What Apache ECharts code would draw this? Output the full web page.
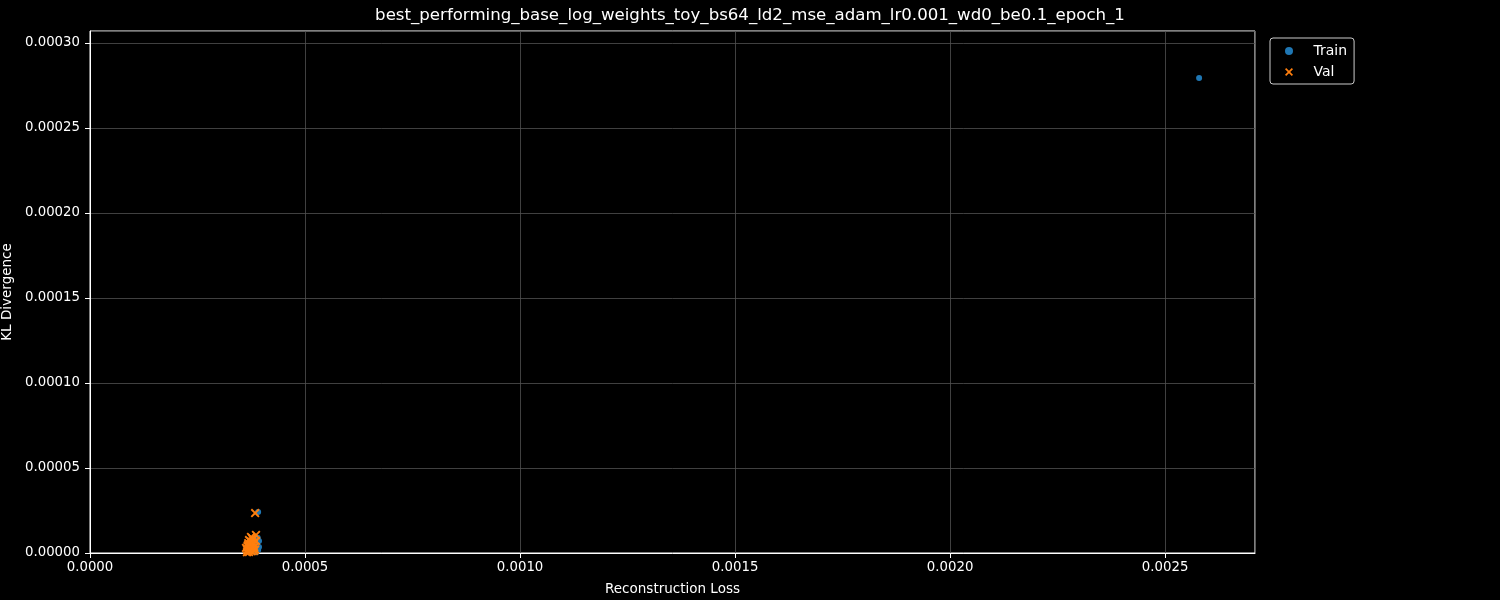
<!DOCTYPE html>
<html><head><meta charset="utf-8">
<script src="https://cdn.jsdelivr.net/npm/echarts@6/dist/echarts.min.js"></script>
<style>html,body{margin:0;padding:0;background:#000;}#c{width:1500px;height:600px;}</style>
</head><body><div id="c"></div>
<script>
const titleText = 'best_performing_base_log_weights_toy_bs64_ld2_mse_adam_lr0.001_wd0_be0.1_epoch_1';
const xName = 'Reconstruction Loss';
const yName = 'KL Divergence';
const trainX = [0.002579, 0.000391, 0.000393, 0.000393, 0.000391, 0.000388, 0.000385, 0.000380, 0.000376, 0.000372, 0.000370, 0.000383, 0.000378, 0.000374, 0.000390, 0.000387];
const trainY = [0.0002794, 0.0000241, 0.0000071, 0.0000035, 0.0000018, 0.0000050, 0.0000030, 0.0000040, 0.0000025, 0.0000060, 0.0000010, 0.0000080, 0.0000015, 0.0000045, 0.0000090, 0.0000005];
const valX = [0.000384, 0.000386, 0.0003698, 0.0003767, 0.0003674, 0.0003814, 0.0003721, 0.0003651, 0.000379, 0.0003744, 0.000386, 0.0003698, 0.0003814, 0.0003767, 0.0003744, 0.0003628, 0.000379, 0.0003721, 0.000365, 0.000370, 0.000376, 0.000382, 0.000368, 0.000374, 0.000379, 0.000384, 0.000366, 0.000372];
const valY = [0.0000235, 0.0000106, 0.0000076, 0.0000065, 0.0000047, 0.0000053, 0.0000029, 0.0000018, 0.0000024, 0.0000041, 0.0000071, 0.0000006, 0.0000012, 0.0000088, 0.0000094, 0.0000030, 0.0000060, 0.0000050, 0.0000005, 0.0000022, 0.0000010, 0.0000035, 0.0000058, 0.0000068, 0.0000080, 0.0000020, 0.0000040, 0.0000014];
const xMax = 0.002709, yMax = 0.000307;
const xInterval = 0.0005, yInterval = 0.00005;

const font = 'DejaVu Sans';
const chart = echarts.init(document.getElementById('c'));
const near = (v, s) => Math.abs(v / s - Math.round(v / s)) < 1e-6;
const xPath = 'path://M0,1.5 L1.5,0 L5,3.5 L8.5,0 L10,1.5 L6.5,5 L10,8.5 L8.5,10 L5,6.5 L1.5,10 L0,8.5 L3.5,5 Z';
chart.setOption({
  backgroundColor: '#000',
  animation: false,
  textStyle: {fontFamily: font},
  title: {text: titleText, left: 'center', top: 2, textStyle: {color: '#fff', fontSize: 16.6, fontWeight: 'normal', fontFamily: font}},
  grid: {left: 90, right: 245, top: 31, bottom: 47, containLabel: false, outerBoundsMode: 'none',
         show: true, borderColor: '#fff', borderWidth: 1, backgroundColor: 'transparent'},
  legend: {
    orient: 'vertical', left: 1270, top: 38, padding: [6, 7, 5, 15], itemGap: 7,
    borderColor: '#ccc', borderWidth: 1, borderRadius: 3, backgroundColor: '#000',
    textStyle: {color: '#fff', fontSize: 14, fontFamily: font},
    itemWidth: 39, itemHeight: 8,
    data: [{name: 'Train', icon: 'circle'}, {name: 'Val', icon: xPath}]
  },
  xAxis: {
    type: 'value', min: 0, max: xMax, interval: xInterval,
    name: xName, nameLocation: 'middle', nameGap: 29,
    nameTextStyle: {color: '#fff', fontSize: 13.5, fontFamily: font},
    axisLine: {lineStyle: {color: '#fff'}},
    axisTick: {show: true, length: 5, lineStyle: {color: '#fff'}},
    axisLabel: {color: '#fff', fontSize: 13.3, margin: 8, showMaxLabel: false, formatter: v => near(v, xInterval) ? v.toFixed(4) : ''},
    splitLine: {show: true, lineStyle: {color: '#505050', width: 0.8}}
  },
  yAxis: {
    type: 'value', min: 0, max: yMax, interval: yInterval,
    name: yName, nameLocation: 'middle', nameGap: 66, nameRotate: 90,
    nameTextStyle: {color: '#fff', fontSize: 13.5, fontFamily: font},
    axisLine: {show: true, lineStyle: {color: '#fff'}},
    axisTick: {show: true, length: 5, lineStyle: {color: '#fff'}},
    axisLabel: {color: '#fff', fontSize: 13.3, margin: 10, showMaxLabel: false, formatter: v => near(v, yInterval) ? v.toFixed(5) : ''},
    splitLine: {show: true, lineStyle: {color: '#505050', width: 0.8}}
  },
  series: [
    {name: 'Train', type: 'scatter', symbol: 'circle', symbolSize: 6,
     itemStyle: {color: '#1f77b4', opacity: 1},
     data: trainX.map((x, i) => [x, trainY[i]])},
    {name: 'Val', type: 'scatter', symbol: xPath, symbolSize: 9,
     itemStyle: {color: '#ff7f0e', opacity: 1},
     data: valX.map((x, i) => [x, valY[i]])}
  ]
});
</script></body></html>
